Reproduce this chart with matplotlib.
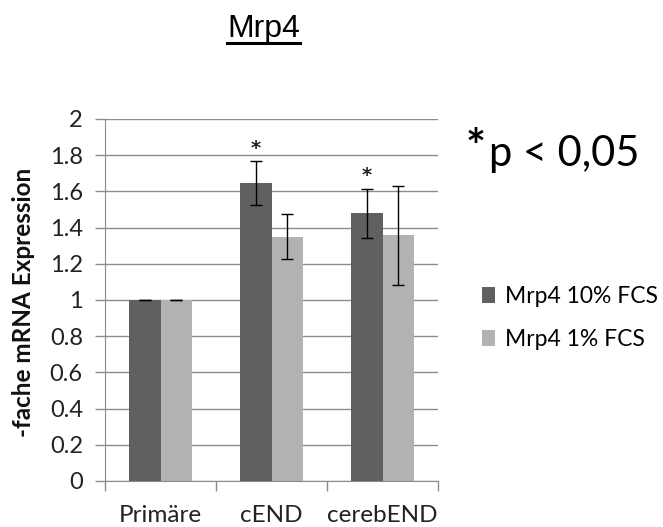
import numpy as np
import matplotlib.pyplot as plt

categories = ["Primäre", "cEND", "cerebEND"]
series_names = ["Mrp4 10% FCS", "Mrp4 1% FCS"]
fcs10 = [1.0, 1.645, 1.48]
fcs10_err = [0.0, 0.12, 0.135]
fcs1 = [1.0, 1.35, 1.357]
fcs1_err = [0.0, 0.125, 0.272]
significant = [False, True, True]
yticks = [0, 0.2, 0.4, 0.6, 0.8, 1, 1.2, 1.4, 1.6, 1.8, 2]
ytick_labels = ["0", "0.2", "0.4", "0.6", "0.8", "1", "1.2", "1.4", "1.6", "1.8", "2"]

dark = "#606060"
light = "#b2b2b2"
grid = "#8c8c8c"
font = ["Lato", "DejaVu Sans"]

fig = plt.figure(figsize=(6.63, 5.27), dpi=100)
ax = fig.add_axes([0.1584, 0.0873, 0.5023, 0.687])

x = np.arange(len(categories))
w = 1 / 3.5
b1 = ax.bar(x - w / 2, fcs10, w, color=dark, label=series_names[0], zorder=2)
b2 = ax.bar(x + w / 2, fcs1, w, color=light, label=series_names[1], zorder=2)
ax.errorbar(x - w / 2, fcs10, yerr=fcs10_err, fmt="none", ecolor="black",
            elinewidth=1, capsize=4, capthick=1, zorder=3)
ax.errorbar(x + w / 2, fcs1, yerr=fcs1_err, fmt="none", ecolor="black",
            elinewidth=1, capsize=4, capthick=1, zorder=3)

# significance stars above the 10% FCS bars
for xi, v, e, sig in zip(x, fcs10, fcs10_err, significant):
    if sig:
        ax.text(xi - w / 2, v + e + 0.07, "*", ha="center", va="center",
                fontsize=14, family="DejaVu Sans", fontweight="bold",
                color="#222222")

ax.set_xlim(-0.5, 2.5)
ax.set_ylim(0, 2)
ax.set_yticks(yticks)
ax.set_yticklabels(ytick_labels, family=font, fontsize=17, color="#222222")
ax.set_xticks(x)
ax.set_xticklabels(categories, family=font, fontsize=17.5, color="#222222")
ax.set_xticks([-0.5, 0.5, 1.5, 2.5], minor=True)
ax.tick_params(axis="x", which="major", length=0, pad=17)
ax.tick_params(axis="x", which="minor", length=7, color=grid, width=1)
ax.tick_params(axis="y", length=7, color=grid, width=1, pad=9)

ax.grid(axis="y", color=grid, linewidth=1, zorder=0)
for side in ["top", "right"]:
    ax.spines[side].set_visible(False)
ax.spines["left"].set_color(grid)
ax.spines["bottom"].set_color(grid)

ax.set_ylabel("-fache mRNA Expression", family=font, fontsize=17.5,
              fontweight="bold", color="#111111")
ax.yaxis.set_label_coords(-0.21, 0.494)

fig.text(0.3975, 0.930, "Mrp4", ha="center", va="baseline", fontsize=23,
         family="Liberation Sans")
fig.add_artist(plt.Line2D([0.342, 0.4525], [0.918, 0.918], color="black",
                          linewidth=2.2, transform=fig.transFigure))

fig.text(0.703, 0.718, "*", ha="left", va="center", fontsize=34,
         family=font, fontweight="bold")
fig.text(0.737, 0.707, "p < 0,05", ha="left", va="center", fontsize=30,
         family=font)

fig.legend(handles=[b1, b2], labels=series_names, loc="center left",
           bbox_to_anchor=(0.727, 0.397), frameon=False, handlelength=0.55,
           handleheight=0.7, handletextpad=0.45, labelspacing=0.95,
           borderaxespad=0, borderpad=0,
           prop={"family": font, "size": 16.5})

fig.savefig("out.png", dpi=100)
